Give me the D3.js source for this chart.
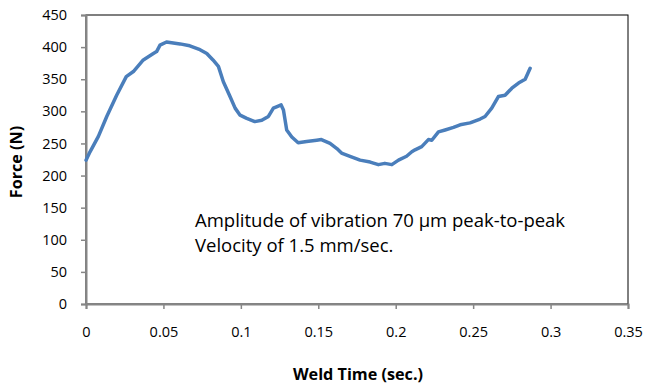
<!DOCTYPE html>
<html><head><meta charset="utf-8">
<script src="https://cdn.jsdelivr.net/npm/d3@7"></script>
<style>body{margin:0;background:#fff}svg{display:block}text{font-family:"Open Sans",sans-serif}</style>
</head><body>
<svg id="c" width="647" height="384"></svg>
<script>
const timeValues = [0,0.0026,0.008,0.0134,0.0198,0.026,0.0306,0.037,0.0435,0.0456,0.0478,0.052,0.0607,0.067,0.0736,0.078,0.082,0.0855,0.0887,0.093,0.0963,0.0995,0.1038,0.109,0.1135,0.1178,0.121,0.123,0.126,0.1275,0.1296,0.1329,0.137,0.1425,0.149,0.152,0.1576,0.162,0.165,0.1705,0.177,0.1835,0.1888,0.193,0.1975,0.2018,0.207,0.2104,0.2125,0.2168,0.2211,0.2233,0.2276,0.2319,0.2373,0.2416,0.248,0.2545,0.2577,0.262,0.2663,0.2706,0.275,0.2793,0.2836,0.2868];
const forceValues = [224,237,261,292,325,354,362,380,390,393,403,408,405,402,396,390,380,370,346,323,305,294,289,284,286,292,305,307,310,302,271,260,251,253,255,256,250,242,235,230,224,221,217,219,217,224,230,237,240,245,256,255,268,271,275,279,282,288,292,305,323,325,336,344,350,367];
const xTicks = [0,0.05,0.1,0.15,0.2,0.25,0.3,0.35];
const yTicks = [0,50,100,150,200,250,300,350,400,450];
const xTitle = "Weld Time  (sec.)";
const yTitle = "Force (N)";
const note1 = "Amplitude of vibration 70 \u03bcm peak-to-peak";
const note2 = "Velocity of 1.5 mm/sec.";

const svg = d3.select("#c");
const L=86,R=628,T=15,B=304;
const x = d3.scaleLinear().domain([0,0.35]).range([L,R]);
const y = d3.scaleLinear().domain([0,450]).range([B,T]);

svg.append("rect").attr("x",L).attr("y",T).attr("width",R-L).attr("height",B-T)
  .attr("fill","none").attr("stroke","#000").attr("stroke-width",1);

const xa = svg.append("g").attr("transform",`translate(0,${B})`)
  .call(d3.axisBottom(x).tickValues(xTicks).tickFormat(d=>String(d)).tickSize(5).tickPadding(18));
const ya = svg.append("g").attr("transform",`translate(${L},0)`)
  .call(d3.axisLeft(y).tickValues(yTicks).tickSize(5).tickPadding(14));
[xa,ya].forEach(a=>{
  a.select(".domain").attr("stroke","#868686").attr("stroke-width",2);
  a.selectAll(".tick line").attr("stroke","#868686").attr("stroke-width",1.5);
  a.selectAll("text").attr("font-size",14.5).attr("fill","#000").attr("font-family","'Open Sans',sans-serif");
});

svg.append("path").datum(timeValues.map((t,i)=>[t,forceValues[i]]))
  .attr("fill","none").attr("stroke","#4a7ebb").attr("stroke-width",3.5)
  .attr("stroke-linejoin","round").attr("stroke-linecap","round")
  .attr("d",d3.line().x(d=>x(d[0])).y(d=>y(d[1])));

svg.append("text").attr("x",358).attr("y",380).attr("text-anchor","middle")
  .attr("font-size",16.2).attr("font-weight","bold").text(xTitle);
svg.append("text").attr("transform",`translate(22,162) rotate(-90)`).attr("text-anchor","middle")
  .attr("font-size",16.2).attr("font-weight","bold").text(yTitle);

svg.append("text").attr("x",195).attr("y",227).attr("font-size",18.5).text(note1);
svg.append("text").attr("x",195).attr("y",252).attr("font-size",18.5).text(note2);
</script>
</body></html>
